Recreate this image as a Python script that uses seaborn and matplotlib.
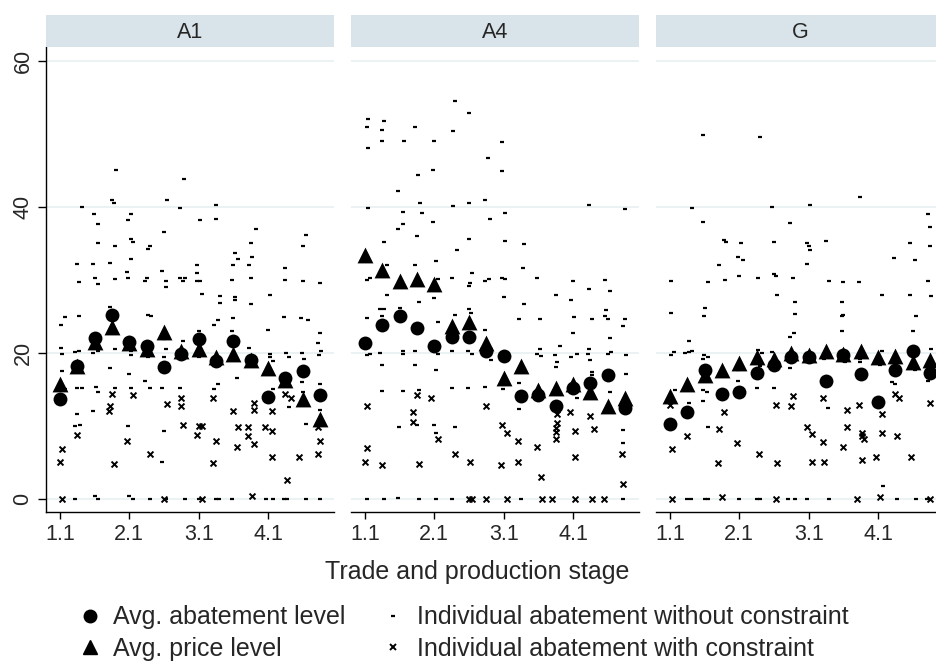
import numpy as np
import pandas as pd
import matplotlib
matplotlib.use("Agg")
import matplotlib.pyplot as plt
import seaborn as sns
from matplotlib.lines import Line2D

# ---------------- data ----------------
panels = ["A1", "A4", "G"]
stages = list(range(1, 17))
stage_ticks = [1, 5, 9, 13]
stage_labels = ["1.1", "2.1", "3.1", "4.1"]
y_ticks = [0, 20, 40, 60]

a1_avg_abatement = [13.7, 18.2, 22.1, 25.2, 21.5, 20.9, 18.1, 19.8, 21.9, 18.9, 21.7, 19.1, 14.0, 16.6, 17.5, 14.2]
a1_avg_price = [15.8, 18.2, 21.5, 23.5, 21.4, 20.5, 22.9, 20.2, 20.5, 19.5, 19.8, 19.1, 18.0, 16.3, 13.7, 11.0]
a4_avg_abatement = [21.3, 23.8, 25.1, 23.4, 21.0, 22.2, 22.2, 20.3, 19.6, 14.1, 14.2, 12.8, 15.2, 15.9, 17.0, 12.4]
a4_avg_price = [33.4, 31.3, 29.8, 30.1, 29.5, 23.7, 24.2, 21.3, 16.6, 18.2, 14.9, 15.2, 15.7, 14.7, 12.7, 13.8]
g_avg_abatement = [10.3, 11.9, 17.6, 14.4, 14.7, 17.3, 18.3, 19.5, 19.5, 16.2, 19.7, 17.1, 13.3, 17.6, 20.3, 17.2]
g_avg_price = [14.1, 15.7, 17.0, 17.7, 18.6, 19.5, 19.2, 20.0, 19.7, 20.3, 19.8, 20.2, 19.4, 19.6, 18.8, 19.0]

# individual abatement without constraint (stage position incl. jitter, value)
a1_free_x = [4.23, 8.17, 4.0, 4.1, 7.2, 2.25, 7.9, 2.94, 5.1, 4.9, 3.2, 7.0, 5.1, 5.2, 3.2, 4.2, 6.2, 6.1, 5.1, 2.0,
             2.9, 3.9, 4.85, 6.9, 3.0, 3.2, 2.1, 4.2, 4.9, 5.9, 6.0, 7.1, 7.1, 7.9, 8.2, 8.1, 3.9, 1.3, 1.06, 2.1,
             6.1, 6.25, 7.0, 1.06, 1.1, 1.9, 2.1, 2.9, 3.2, 4.2, 5.1, 5.1, 6.1, 7.1, 7.0, 8.1, 1.1, 3.9, 5.0, 5.9,
             6.2, 1.3, 2.0, 2.25, 3.1, 3.2, 4.2, 5.1, 6.9, 7.9, 2.0, 2.9, 1.9, 2.15, 4.9, 7.0,
             10.0, 9.1, 10.0, 12.3, 12.0, 15.2, 15.0, 11.1, 11.25, 11.0, 12.1, 11.9, 8.9, 8.9, 8.9, 9.1, 10.9, 12.0,
             14.0, 14.0, 15.0, 16.0, 9.2, 10.25, 10.25, 11.1, 11.1, 12.0, 13.1, 10.1, 9.9, 11.0, 13.9, 14.9, 15.3,
             13.0, 16.0, 15.9, 16.05, 15.95, 9.0, 9.0, 10.9, 13.1, 13.1, 13.3, 14.05, 14.2, 14.95, 15.05, 11.9, 12.2,
             11.2, 10.1, 9.9, 13.3, 14.95, 15.0, 14.2, 16.0, 16.0, 15.2,
             6.9, 1.9, 3.0, 3.2, 5.0, 5.2, 6.2, 7.1, 8.2, 9.0, 10.0, 10.2, 10.9, 12.9, 13.3, 13.9, 14.1, 15.2, 16.0]
a1_free_y = [45.0, 43.8, 40.9, 40.5, 40.9, 40.0, 39.9, 39.0, 39.0, 38.2, 37.7, 36.5, 35.6, 35.2, 35.0, 34.6, 34.6, 34.3, 32.8, 32.2,
             32.2, 32.3, 31.1, 31.2, 30.2, 29.5, 29.7, 30.1, 30.2, 29.8, 30.3, 29.8, 29.0, 30.3, 30.2, 29.8, 26.3, 24.9, 23.8, 25.1,
             25.2, 25.0, 21.9, 20.7, 19.9, 20.1, 20.3, 20.0, 20.2, 20.5, 20.2, 19.7, 19.5, 20.5, 19.5, 21.6, 17.5, 18.0, 17.1, 16.2,
             15.2, 15.1, 15.2, 15.2, 15.4, 14.7, 15.2, 15.2, 15.2, 15.2, 11.7, 12.0, 10.0, 10.2, 10.0, 9.3,
             40.3, 38.2, 38.3, 37.0, 35.1, 36.2, 34.7, 33.7, 32.8, 32.1, 33.1, 32.1, 32.0, 30.9, 29.9, 29.8, 30.0, 30.3,
             31.6, 30.0, 29.8, 29.6, 28.1, 27.8, 26.8, 27.7, 27.3, 26.7, 27.9, 24.5, 23.8, 24.8, 24.9, 24.8, 24.5,
             23.2, 22.8, 21.3, 20.2, 19.7, 23.0, 19.5, 23.0, 19.9, 19.5, 18.9, 20.0, 19.4, 20.0, 19.2, 20.7, 18.5,
             16.6, 15.8, 15.1, 15.1, 16.0, 14.7, 12.6, 15.8, 12.2, 10.3,
             5.0, 0.0, 0.4, 0.0, 0.4, 0.0, 0.0, 0.0, 0.0, 0.0, 0.0, 0.0, 0.0, 0.0, 0.0, 0.0, 0.0, 0.0, 0.0]

# individual abatement with constraint
a1_con_x = [4.0, 5.2, 3.9, 3.85, 7.2, 8.0, 8.0, 8.1, 2.0, 1.1, 4.85, 6.2, 1.0, 4.1, 9.85, 12.2, 12.2, 11.0, 13.2,
            14.0, 14.3, 9.0, 9.2, 11.25, 11.85, 12.85, 13.2, 8.9, 11.85, 12.2, 10.0, 11.2, 15.9, 16.0, 13.2, 14.8,
            15.9, 9.8, 14.1, 1.1, 7.0, 9.2, 12.1]
a1_con_y = [14.4, 14.3, 12.7, 12.0, 13.0, 13.8, 12.7, 10.2, 8.7, 6.9, 7.9, 6.2, 5.0, 4.8, 13.9, 13.2, 12.2, 12.0, 12.0,
            14.4, 13.9, 10.0, 10.0, 9.9, 9.9, 9.9, 9.3, 8.7, 8.6, 7.6, 7.9, 7.1, 9.9, 8.0, 5.8, 5.8,
            6.1, 4.9, 2.6, 0.0, 0.0, 0.0, 0.4]

a4_free_x = [6.2, 7.0, 1.2, 2.1, 1.1, 2.0, 3.9, 6.1, 2.0, 3.25, 5.0, 8.9, 1.2, 8.1, 4.9, 4.05, 8.9, 2.9, 7.9, 1.2,
             4.15, 6.1, 7.0, 3.2, 4.3, 8.2, 3.2, 2.9, 4.9, 4.0, 7.0, 2.1, 6.3, 5.1, 2.3, 3.9, 7.15, 1.1, 1.3, 5.2,
             6.0, 7.05, 7.0, 7.9, 8.15, 8.9, 2.3, 4.1, 5.0, 1.9, 2.1, 3.0, 2.0, 1.1, 6.2, 7.0, 7.1, 5.2, 7.9, 1.1,
             1.3, 1.9, 3.2, 3.2, 3.9, 5.2, 6.0, 6.95, 7.2, 8.25, 2.0, 3.9, 5.1,
             13.9, 16.0, 9.1, 9.1, 10.2, 10.1, 9.05, 10.9, 13.0, 13.9, 14.85, 15.1, 9.0, 10.2, 12.0, 12.9, 14.9, 9.9,
             11.1, 13.05, 14.1, 14.85, 15.0, 16.0, 15.9, 13.0, 15.1, 12.25, 11.1, 10.9, 11.15, 11.95, 12.9, 13.2,
             13.9, 13.85, 15.0, 15.2, 16.05, 12.1, 12.0, 14.0, 14.1, 16.05,
             2.0, 3.2, 4.1, 2.95, 4.0, 5.0, 5.1, 6.2, 6.0, 6.95, 7.9, 8.95, 9.9, 9.9, 13.2, 14.1, 15.15, 15.9, 15.9,
             1.1, 2.1, 2.9, 4.1, 5.1, 6.0, 10.0, 15.9]
a4_free_y = [54.5, 52.8, 52.1, 51.7, 51.0, 50.6, 51.0, 50.4, 49.0, 49.0, 49.0, 48.9, 48.0, 46.7, 45.1, 44.4, 44.9, 42.2, 40.9, 39.9,
             40.5, 40.1, 40.5, 39.3, 39.2, 38.3, 37.7, 37.0, 38.0, 36.0, 35.6, 35.2, 34.1, 32.6, 32.0, 32.0, 30.9, 30.0, 30.3, 30.1,
             30.2, 29.6, 29.2, 29.9, 30.1, 30.2, 27.9, 27.0, 27.5, 26.0, 26.0, 26.1, 25.1, 24.8, 25.2, 26.0, 25.5, 24.2, 23.1, 19.7,
             19.9, 20.0, 20.3, 19.8, 20.3, 19.8, 20.2, 20.2, 19.9, 19.0, 18.3, 18.3, 17.7,
             40.2, 39.7, 39.1, 35.3, 34.9, 31.6, 30.1, 30.2, 29.9, 28.8, 30.0, 28.5, 27.6, 26.7, 28.0, 27.2, 25.9, 24.7,
             24.7, 24.9, 24.6, 25.0, 24.7, 24.6, 23.7, 22.7, 22.1, 21.0, 20.6, 19.8, 19.6, 19.7, 19.5, 19.9,
             20.5, 19.8, 19.8, 20.1, 19.7, 18.7, 18.1, 19.0, 17.4, 17.1,
             14.8, 14.8, 14.9, 9.9, 10.1, 10.1, 9.1, 9.8, 15.2, 15.2, 15.4, 15.1, 15.9, 12.3, 13.9, 17.0, 14.6, 9.5, 7.7,
             0.0, 0.0, 0.2, 0.0, 0.0, 0.0, 0.0, 0.0]

a4_con_x = [1.1, 1.1, 1.0, 2.0, 4.0, 3.8, 3.8, 4.1, 4.8, 5.2, 6.2, 7.05, 8.0, 8.9, 9.2, 8.85, 9.8, 9.8, 10.9, 11.15,
            12.1, 12.1, 12.0, 12.0, 12.0, 12.8, 13.1, 13.1, 14.0, 14.2, 15.8, 15.9,
            7.0, 7.15, 8.0, 9.2, 11.2, 11.8, 13.1, 14.1, 14.8]
a4_con_y = [12.8, 7.0, 5.0, 4.6, 14.3, 11.9, 10.6, 4.8, 13.8, 8.2, 6.1, 5.0, 12.7, 10.1, 9.1, 4.7, 7.9, 5.0, 7.1, 3.0,
            11.6, 10.4, 9.7, 9.2, 8.2, 11.9, 9.3, 5.7, 11.4, 9.6, 6.1, 2.1,
            0.0, 0.0, 0.0, 0.0, 0.0, 0.0, 0.0, 0.0, 0.0]

g_free_x = [2.9, 6.2, 2.3, 6.9, 2.9, 7.9, 4.1, 4.25, 5.1, 7.0, 4.95, 5.2, 3.85, 1.05, 3.2, 4.2, 5.0, 6.1, 7.0, 7.1,
            8.1, 7.2, 8.2, 1.05, 3.0, 2.95, 8.2, 2.1, 8.15, 7.9, 1.25, 1.05, 1.9, 2.1, 2.25, 2.95, 2.9, 3.2, 6.1, 6.3,
            6.9, 4.95, 5.1, 6.2, 4.9, 7.95, 1.3, 3.15, 6.0, 7.0,
            9.1, 11.95, 15.9, 16.0, 16.0, 10.0, 8.9, 9.0, 9.1, 8.9, 14.85, 13.9, 15.15, 10.2, 11.0, 11.9, 15.9, 10.9,
            13.2, 14.85, 16.05, 10.9, 11.0, 15.2, 10.9, 15.0, 16.05, 13.2, 13.0, 13.1, 9.9, 10.8, 11.1, 11.95, 11.95,
            14.05, 15.15, 15.9, 13.8,
            2.1, 2.9, 2.9, 3.2, 10.1, 13.3, 14.0,
            2.0, 2.2, 3.0, 3.2, 5.0, 6.0, 6.2, 7.8, 8.2, 8.9, 10.2, 14.1, 15.2, 15.8]
g_free_y = [49.9, 49.6, 39.9, 40.0, 38.0, 37.8, 35.5, 35.2, 35.1, 35.2, 33.2, 32.7, 32.0, 29.8, 29.7, 30.0, 30.5, 30.2, 30.8, 30.5,
            30.2, 27.9, 27.0, 25.5, 26.1, 25.0, 25.3, 21.7, 22.7, 22.2, 20.1, 19.7, 20.0, 20.1, 20.2, 19.7, 19.2, 19.4, 20.4, 20.0,
            20.1, 17.7, 18.2, 18.2, 16.1, 18.0, 14.9, 14.7, 15.2, 15.2,
            40.3, 41.3, 39.0, 37.2, 34.6, 35.3, 35.0, 34.7, 34.1, 32.2, 35.1, 33.0, 32.7, 29.8, 29.7, 29.7, 29.8, 27.0,
            27.9, 27.9, 27.8, 25.0, 25.2, 25.0, 23.0, 23.0, 20.5, 20.2, 18.6, 18.4, 19.2, 19.2, 18.7, 19.2, 18.7,
            18.6, 17.6, 16.2, 16.0,
            13.1, 14.9, 13.4, 9.9, 12.4, 1.8, 15.8,
            0.0, 0.0, 0.0, 0.0, 0.0, 0.0, 0.0, 0.0, 0.0, 0.0, 0.0, 0.0, 0.0, 0.0]

g_con_x = [1.0, 1.1, 2.0, 4.1, 3.85, 3.8, 4.85, 6.15, 7.1, 7.2, 8.0, 8.1, 8.9, 9.2, 9.2, 9.8, 9.8, 9.9, 10.95, 11.2,
           11.2, 11.9, 12.1, 12.1, 12.2, 12.1, 12.9, 13.2, 13.2, 14.0, 14.2, 14.1, 14.9, 16.0,
           1.1, 4.0, 7.1, 11.8, 13.1, 16.0]
g_con_y = [12.9, 6.9, 8.6, 11.9, 9.6, 4.9, 7.7, 6.1, 12.9, 4.9, 12.7, 14.1, 9.9, 8.9, 5.1, 7.8, 13.9, 5.0, 7.1, 12.2,
           9.9, 12.9, 9.1, 8.6, 8.2, 5.3, 5.8, 11.6, 9.0, 14.4, 13.9, 8.6, 5.8, 13.1,
           0.0, 0.3, 0.0, 0.0, 0.3, 0.0]

legend_labels = ["Avg. abatement level", "Avg. price level",
                 "Individual abatement without constraint", "Individual abatement with constraint"]

# ---------------- tidy tables ----------------
avg_sources = {"A1": (a1_avg_abatement, a1_avg_price),
               "A4": (a4_avg_abatement, a4_avg_price),
               "G": (g_avg_abatement, g_avg_price)}
ind_sources = {"A1": (a1_free_x, a1_free_y, a1_con_x, a1_con_y),
               "A4": (a4_free_x, a4_free_y, a4_con_x, a4_con_y),
               "G": (g_free_x, g_free_y, g_con_x, g_con_y)}

avg_rows = []
for p, (ab, pr) in avg_sources.items():
    for s, a, b in zip(stages, ab, pr):
        avg_rows.append((p, s, a, "abatement"))
        avg_rows.append((p, s, b, "price"))
avg_df = pd.DataFrame(avg_rows, columns=["panel", "stage", "value", "series"])

ind_rows = []
for p, (fx, fy, cx, cy) in ind_sources.items():
    ind_rows += [(p, x, y, "free") for x, y in zip(fx, fy)]
    ind_rows += [(p, x, y, "con") for x, y in zip(cx, cy)]
ind_df = pd.DataFrame(ind_rows, columns=["panel", "stage", "value", "kind"])

# ---------------- drawing ----------------
sns.set_theme(style="white")
plt.rcParams["font.family"] = ["Liberation Sans", "DejaVu Sans"]

W, H = 936, 666
fig = plt.figure(figsize=(W / 100, H / 100), dpi=100)

panel_left_px = [46, 351, 656]
panel_w_px = 288
plot_top_px, plot_bot_px = 47, 512
head_top_px = 15

grid_col = "#e8f0f2"
head_col = "#d9e4ea"
fs_tick = 15.5
fs_head = 15.5
fs_big = 18

for i, p in enumerate(panels):
    l = panel_left_px[i] / W
    ax = fig.add_axes([l, 1 - plot_bot_px / H, panel_w_px / W, (plot_bot_px - plot_top_px) / H])
    hx = fig.add_axes([l, 1 - plot_top_px / H, panel_w_px / W, (plot_top_px - head_top_px) / H])
    hx.set_facecolor(head_col)
    hx.set_xticks([]); hx.set_yticks([])
    for sp in hx.spines.values():
        sp.set_visible(False)
    hx.text(0.5, 0.45, p, ha="center", va="center", fontsize=fs_head, transform=hx.transAxes)

    for yv in y_ticks:
        ax.axhline(yv, color=grid_col, lw=1.2, zorder=0)

    d = ind_df[ind_df.panel == p]
    sns.scatterplot(data=d[d.kind == "free"], x="stage", y="value", marker="_", s=10,
                    color="black", linewidth=1.6, ax=ax, legend=False, zorder=2)
    sns.scatterplot(data=d[d.kind == "con"], x="stage", y="value", marker="x", s=18,
                    color="black", linewidth=1.4, ax=ax, legend=False, zorder=2)
    a = avg_df[avg_df.panel == p]
    sns.scatterplot(data=a[a.series == "abatement"], x="stage", y="value", marker="o", s=100,
                    color="black", edgecolor="black", linewidth=0, ax=ax, legend=False, zorder=3)
    sns.scatterplot(data=a[a.series == "price"], x="stage", y="value", marker="^", s=130,
                    color="black", edgecolor="black", linewidth=0, ax=ax, legend=False, zorder=3)

    ax.set_xlim(0.2, 16.8)
    ax.set_ylim(-1.78, 61.9)
    ax.set_xticks(stage_ticks)
    ax.set_xticklabels(stage_labels, fontsize=fs_tick)
    ax.set_xlabel("")
    ax.set_ylabel("")
    ax.tick_params(axis="x", direction="out", length=5, width=1, color="black", pad=4, bottom=True)
    for sp in ["top", "right"]:
        ax.spines[sp].set_visible(False)
    ax.spines["bottom"].set_color("black")
    ax.spines["bottom"].set_linewidth(1)
    if i == 0:
        ax.set_yticks(y_ticks)
        ax.set_yticklabels([str(v) for v in y_ticks], fontsize=fs_tick, rotation=90, va="center")
        ax.tick_params(axis="y", direction="out", length=6, width=1, color="black", pad=3, left=True)
        ax.spines["left"].set_color("black")
        ax.spines["left"].set_linewidth(1)
    else:
        ax.set_yticks([])
        ax.spines["left"].set_visible(False)
    ax.set_facecolor("none")

fig.text(477 / W, 1 - 572 / H, "Trade and production stage", ha="center", va="center", fontsize=fs_big)

handles = [
    Line2D([], [], marker="o", color="black", linestyle="none", markersize=9),
    Line2D([], [], marker="^", color="black", linestyle="none", markersize=10),
    Line2D([], [], marker="_", color="black", linestyle="none", markersize=3.2, markeredgewidth=1.6),
    Line2D([], [], marker="x", color="black", linestyle="none", markersize=4, markeredgewidth=1.4),
]
fig.legend(handles, legend_labels, ncol=2, loc="center left", bbox_to_anchor=(62 / W, 1 - 633 / H),
           frameon=False, fontsize=fs_big, handlelength=1.0, handletextpad=0.45, columnspacing=1.4,
           labelspacing=0.3, borderpad=0.1)

fig.savefig("out.png", dpi=100)
